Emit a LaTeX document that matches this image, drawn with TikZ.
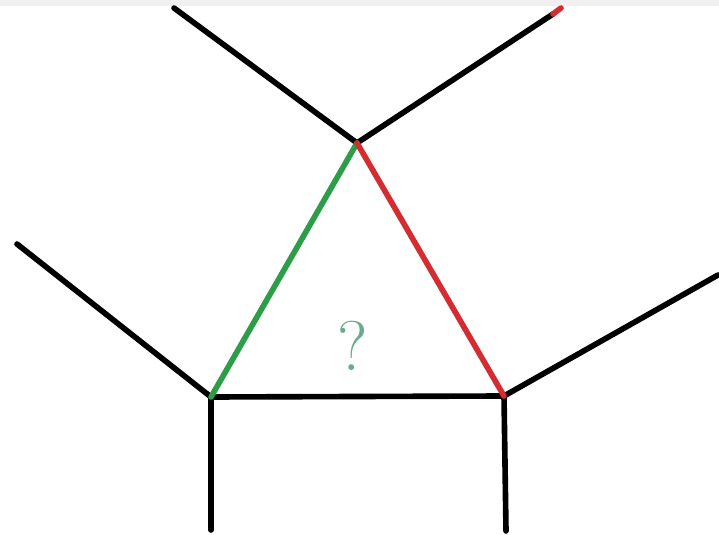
\documentclass[tikz,border=0pt]{standalone}
\usepackage{tikz}
\definecolor{edgegreen}{RGB}{44,158,72}
\definecolor{edgered}{RGB}{212,44,48}
\definecolor{qmark}{RGB}{104,170,140}

\begin{document}
\begin{tikzpicture}[line width=3.2pt,line cap=round,line join=round]
\useasboundingbox (0,0) rectangle (14.38,10.68);
\fill[black!6] (0,10.56) rectangle (14.38,10.68);
% triangle corners and free ends
\coordinate (top) at (7.14,7.82);
\coordinate (left) at (4.22,2.74);
\coordinate (right) at (10.08,2.76);
\coordinate (topl) at (3.48,10.52);
\coordinate (topr) at (11.22,10.52);
\coordinate (topr2) at (11.06,10.40);
\coordinate (lend) at (0.34,5.80);
\coordinate (rend) at (14.36,5.18);
\coordinate (ldown) at (4.22,0.08);
\coordinate (rdown) at (10.12,0.06);
\draw (top)--(topl);
\draw (top)--(topr2);
\draw[edgered] (topr2)--(topr);
\draw (left)--(lend);
\draw (left)--(ldown);
\draw (right)--(rend);
\draw (right)--(rdown);
\draw (left)--(right);
\draw[edgegreen] (left)--(top);
\draw[edgered] (right)--(top);
\node[qmark,font=\fontsize{40}{40}\selectfont] (q) at (7.06,3.76) {?};
\end{tikzpicture}
\end{document}
